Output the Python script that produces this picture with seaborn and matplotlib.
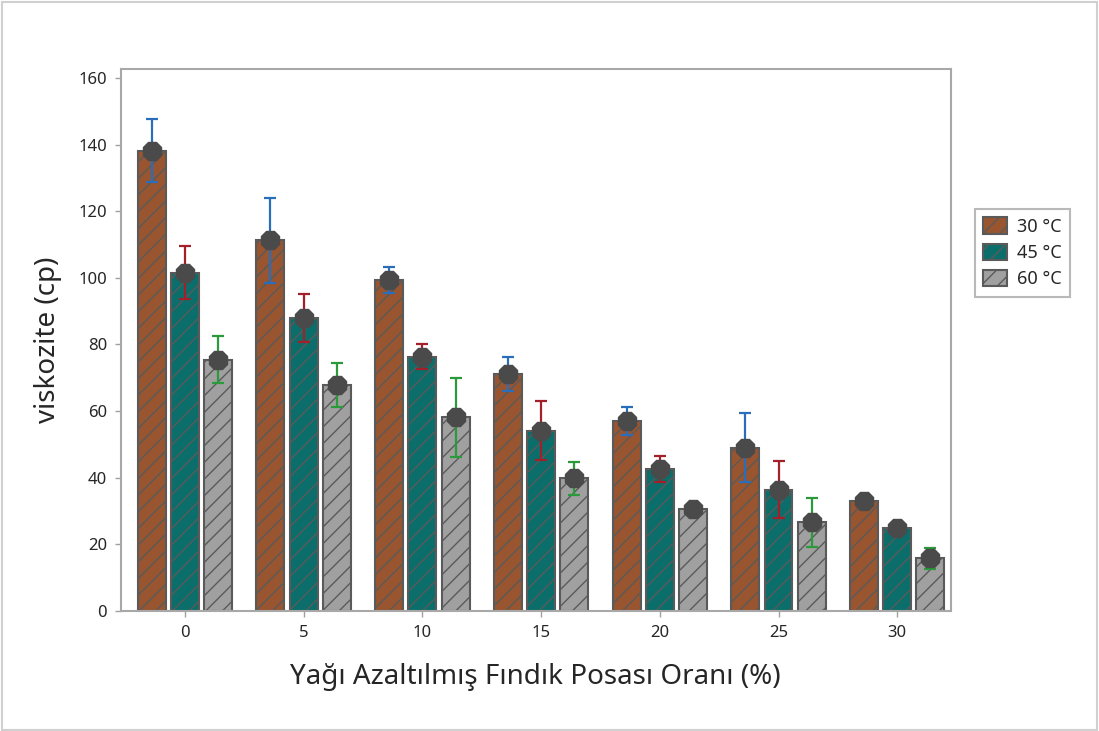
import pandas as pd
import matplotlib.pyplot as plt
import seaborn as sns
from matplotlib.patches import Patch, Rectangle

oranlar = ['0', '5', '10', '15', '20', '25', '30']
sicakliklar = ['30 °C', '45 °C', '60 °C']

visk_30 = [138.2, 111.3, 99.4, 71.1, 57.0, 49.0, 32.9]
visk_45 = [101.6, 87.9, 76.3, 54.1, 42.6, 36.4, 25.0]
visk_60 = [75.4, 67.8, 58.1, 39.8, 30.6, 26.6, 15.8]

hata_30 = [9.4, 12.8, 4.0, 5.2, 4.1, 10.3, 0.5]
hata_45 = [8.0, 7.2, 3.8, 8.9, 4.0, 8.6, 0.5]
hata_60 = [7.0, 6.6, 11.8, 5.0, 1.5, 7.4, 3.2]

renkler = ['#98552f', '#0b6e6b', '#a0a0a0']
hata_renk = ['#2a6ebb', '#a3202a', '#2a9a3a']

data = pd.DataFrame({
    'Oran': oranlar * 3,
    'Sicaklik': [s for s in sicakliklar for _ in oranlar],
    'Viskozite': visk_30 + visk_45 + visk_60,
})

sns.set_style('white')
plt.rcParams['font.family'] = ['Noto Sans', 'DejaVu Sans']
plt.rcParams['hatch.color'] = '#505050'
plt.rcParams['hatch.linewidth'] = 1.0

fig = plt.figure(figsize=(10.99, 7.31), dpi=100)
ax = fig.add_axes([0.110, 0.1642, 0.755, 0.7414])

sns.barplot(data=data, x='Oran', y='Viskozite', hue='Sicaklik', order=oranlar,
            hue_order=sicakliklar, palette=renkler, errorbar=None,
            width=0.84, gap=0.16, legend=False, ax=ax,
            edgecolor='#5a5a5a', linewidth=1.5, saturation=1)

for bars, hatalar, renk in zip(ax.containers, [hata_30, hata_45, hata_60], hata_renk):
    xs = [p.get_x() + p.get_width() / 2 for p in bars]
    ys = [p.get_height() for p in bars]
    for p in bars:
        p.set_hatch('//')
    ax.errorbar(xs, ys, yerr=hatalar, fmt='none', ecolor=renk, elinewidth=1.6,
                capsize=4, capthick=1.6, zorder=3)
    ax.plot(xs, ys, linestyle='none', marker='8', markersize=14,
            color='#4a4a4a', zorder=4)

ax.set_ylim(0, 162.7)
ax.set_xlim(-0.54, 6.45)
ax.set_yticks([0, 20, 40, 60, 80, 100, 120, 140, 160])
ax.set_xlabel('Yağı Azaltılmış Fındık Posası Oranı (%)', fontsize=20, labelpad=16)
ax.set_ylabel('viskozite (cp)', fontsize=20, labelpad=12)
ax.tick_params(axis='both', labelsize=12, length=4, width=1, color='#a0a0a0',
               direction='out', bottom=True, left=True, pad=6)
for s in ax.spines.values():
    s.set_color('#a8a8a8')
    s.set_linewidth(1.5)

handles = [Patch(facecolor=c, edgecolor='#5a5a5a', hatch='//', linewidth=1.5, label=s)
           for c, s in zip(renkler, sicakliklar)]
leg = fig.legend(handles=handles, loc='upper left', bbox_to_anchor=(0.879, 0.726),
                 fontsize=13, frameon=True, fancybox=False, edgecolor='#a8a8a8',
                 handlelength=1.3, handleheight=1.0, labelspacing=0.45,
                 handletextpad=0.6, borderpad=0.45)
leg.get_frame().set_linewidth(1.5)

fig.patches.append(Rectangle((0.002, 0.002), 0.996, 0.995, transform=fig.transFigure,
                             fill=False, edgecolor='#d0d0d0', linewidth=1.5))

fig.savefig('out.png', dpi=100)
